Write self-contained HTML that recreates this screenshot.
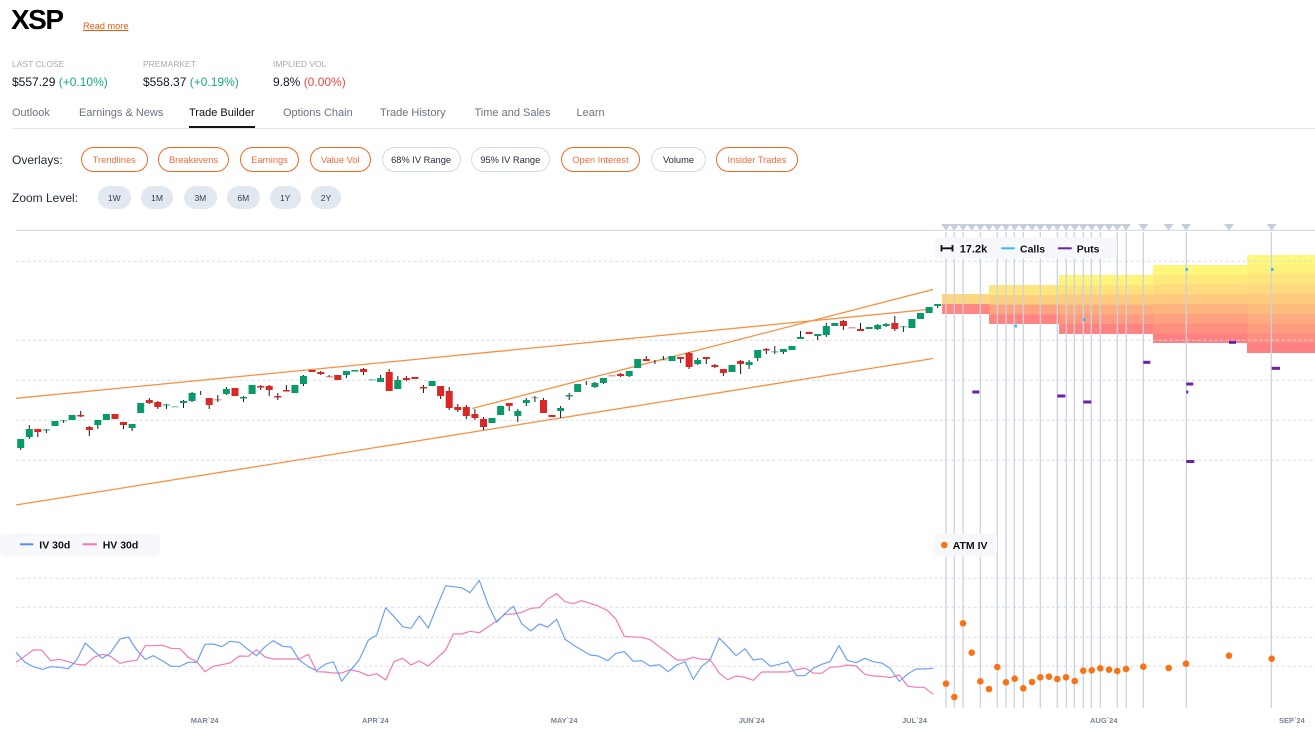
<!DOCTYPE html>
<html><head><meta charset="utf-8">
<style>
html,body{margin:0;padding:0;background:#fff;}
body{width:1315px;height:735px;position:relative;overflow:hidden;font-family:"Liberation Sans",sans-serif;}
.t{position:absolute;white-space:nowrap;line-height:1;}
.btn{position:absolute;top:147px;height:25px;box-sizing:border-box;border-radius:13px;display:flex;align-items:center;justify-content:center;font-size:9.3px;white-space:nowrap;}
.o{border:1.3px solid #ec6b24;color:#f26b3a;}
.g{border:1.3px solid #d3dbe6;color:#1f2937;}
.z{position:absolute;top:186px;height:23px;border-radius:12px;background:#e2e8f0;display:flex;align-items:center;justify-content:center;font-size:8.5px;color:#334155;}
svg{position:absolute;left:0;top:0;}
</style></head><body>

<div class="t" style="left:11px;top:6.3px;font-size:28px;font-weight:bold;letter-spacing:-1.5px;color:#000;">XSP</div>
<div class="t" style="left:83px;top:22.2px;font-size:9.2px;color:#ea580c;text-decoration:underline;">Read more</div>

<div class="t" style="left:12px;top:59.8px;font-size:8.5px;color:#a3aab6;">LAST CLOSE</div>
<div class="t" style="left:143px;top:59.8px;font-size:8.5px;color:#a3aab6;">PREMARKET</div>
<div class="t" style="left:273px;top:59.8px;font-size:8.5px;color:#a3aab6;">IMPLIED VOL</div>
<div class="t" style="left:12px;top:75.8px;font-size:12px;color:#111827;">$557.29 <span style="color:#17a589">(+0.10%)</span></div>
<div class="t" style="left:143px;top:75.8px;font-size:12px;color:#111827;">$558.37 <span style="color:#17a589">(+0.19%)</span></div>
<div class="t" style="left:273px;top:75.8px;font-size:12px;color:#111827;">9.8% <span style="color:#ef4444">(0.00%)</span></div>

<div class="t" style="left:12px;top:108px;font-size:11px;color:#6b7280;">Outlook</div>
<div class="t" style="left:79px;top:108px;font-size:11px;color:#6b7280;">Earnings &amp; News</div>
<div class="t" style="left:189px;top:108px;font-size:11px;color:#111;">Trade Builder</div>
<div class="t" style="left:283px;top:108px;font-size:11px;color:#6b7280;">Options Chain</div>
<div class="t" style="left:380px;top:108px;font-size:11px;color:#6b7280;">Trade History</div>
<div class="t" style="left:474.5px;top:108px;font-size:11px;color:#6b7280;">Time and Sales</div>
<div class="t" style="left:576.5px;top:108px;font-size:11px;color:#6b7280;">Learn</div>
<div style="position:absolute;left:12px;top:128px;width:1303px;height:1px;background:#e2e8f0;"></div>
<div style="position:absolute;left:189px;top:126px;width:66px;height:2px;background:#111;"></div>

<div class="t" style="left:12px;top:153.8px;font-size:12px;color:#1f2937;">Overlays:</div>
<div class="btn o" style="left:81px;width:66.5px;">Trendlines</div>
<div class="btn o" style="left:158px;width:71px;">Breakevens</div>
<div class="btn o" style="left:240px;width:59px;">Earnings</div>
<div class="btn o" style="left:310px;width:60.5px;">Value Vol</div>
<div class="btn g" style="left:381.6px;width:79px;">68% IV Range</div>
<div class="btn g" style="left:471px;width:78.6px;">95% IV Range</div>
<div class="btn o" style="left:561px;width:79px;">Open Interest</div>
<div class="btn g" style="left:651px;width:55px;">Volume</div>
<div class="btn o" style="left:716px;width:82px;">Insider Trades</div>

<div class="t" style="left:12px;top:191.8px;font-size:12px;color:#1f2937;">Zoom Level:</div>
<div class="z" style="left:98px;width:32.5px;">1W</div>
<div class="z" style="left:141px;width:32px;">1M</div>
<div class="z" style="left:184px;width:32.7px;">3M</div>
<div class="z" style="left:226.6px;width:33.4px;">6M</div>
<div class="z" style="left:270px;width:30.5px;">1Y</div>
<div class="z" style="left:311px;width:30px;">2Y</div>

<svg width="1315" height="735" viewBox="0 0 1315 735" xmlns="http://www.w3.org/2000/svg">
<!-- heatmap -->
<g shape-rendering="crispEdges">
<rect x="1247" y="255" width="68" height="10.1" fill="#fef97b"/>
<rect x="1247" y="264.8" width="68" height="10.1" fill="#fef07c"/>
<rect x="1247" y="274.6" width="68" height="10.1" fill="#fde57d"/>
<rect x="1247" y="284.4" width="68" height="10.1" fill="#fdd97e"/>
<rect x="1247" y="294.2" width="68" height="10.1" fill="#fdcb7e"/>
<rect x="1247" y="304" width="68" height="10.1" fill="#fdbb7e"/>
<rect x="1247" y="313.8" width="68" height="10.1" fill="#fdab7f"/>
<rect x="1247" y="323.6" width="68" height="10.1" fill="#fe9c80"/>
<rect x="1247" y="333.4" width="68" height="10.1" fill="#fe8e80"/>
<rect x="1247" y="343.2" width="68" height="9.8" fill="#ff8080"/>
<rect x="1153" y="265" width="94.3" height="10.05" fill="#fef77b"/>
<rect x="1153" y="274.75" width="94.3" height="10.05" fill="#fde97c"/>
<rect x="1153" y="284.5" width="94.3" height="10.05" fill="#fdda7e"/>
<rect x="1153" y="294.25" width="94.3" height="10.05" fill="#fdc97e"/>
<rect x="1153" y="304" width="94.3" height="10.05" fill="#fdb57f"/>
<rect x="1153" y="313.75" width="94.3" height="10.05" fill="#fea27f"/>
<rect x="1153" y="323.5" width="94.3" height="10.05" fill="#fe9080"/>
<rect x="1153" y="333.25" width="94.3" height="9.75" fill="#ff8080"/>
<rect x="1059" y="275" width="94.3" height="10.1" fill="#fef47c"/>
<rect x="1059" y="284.8" width="94.3" height="10.1" fill="#fde27d"/>
<rect x="1059" y="294.7" width="94.3" height="10.1" fill="#fdcb7e"/>
<rect x="1059" y="304.5" width="94.3" height="10.1" fill="#fdb07f"/>
<rect x="1059" y="314.3" width="94.3" height="10.1" fill="#fe9a80"/>
<rect x="1059" y="324.2" width="94.3" height="9.8" fill="#ff8481"/>
<rect x="989" y="285" width="70.3" height="10.05" fill="#fde67d"/>
<rect x="989" y="294.75" width="70.3" height="10.05" fill="#fdd07e"/>
<rect x="989" y="304.5" width="70.3" height="10.05" fill="#fea37f"/>
<rect x="989" y="314.25" width="70.3" height="9.75" fill="#ff8482"/>
<rect x="942" y="294" width="47.3" height="10.2" fill="#fdd67f"/>
<rect x="942" y="304" width="47.3" height="10" fill="#ff8682"/>
</g>

<!-- top border & grid -->
<line x1="16" y1="230.3" x2="1315" y2="230.3" stroke="#cbd5e1" stroke-width="1"/>
<g stroke="#d5dce8" stroke-width="1" stroke-dasharray="3.3 2.3" opacity="0.9">
<line x1="16" y1="261.3" x2="1315" y2="261.3"/>
<line x1="16" y1="340.3" x2="1315" y2="340.3"/>
<line x1="16" y1="380.3" x2="1315" y2="380.3"/>
<line x1="16" y1="420.3" x2="1315" y2="420.3"/>
<line x1="16" y1="460.3" x2="1315" y2="460.3"/>
<line x1="16" y1="578.3" x2="1315" y2="578.3"/>
<line x1="16" y1="607.3" x2="1315" y2="607.3"/>
<line x1="16" y1="637.3" x2="1315" y2="637.3"/>
<line x1="16" y1="666.3" x2="1315" y2="666.3"/>
</g>

<!-- expiry lines -->
<path d="M946 232V708M954.3 232V708M963 232V708M980.3 232V708M997.3 232V708M1006 232V708M1014.3 232V708M1023.3 232V708M1040.3 232V708M1057.3 232V708M1066.3 232V708M1074.3 232V708M1083.3 232V708M1091.3 232V708M1100.3 232V708M1117.3 232V708M1126.3 232V708M1143.3 232V708M1186.3 232V708M1271.3 232V708" stroke="#c9d3df" stroke-width="1.3" fill="none"/>
<path d="M941 224h10l-5 6.5zM949.3 224h10l-5 6.5zM958 224h10l-5 6.5zM966.7 224h10l-5 6.5zM975.3 224h10l-5 6.5zM984 224h10l-5 6.5zM992.3 224h10l-5 6.5zM1001 224h10l-5 6.5zM1009.7 224h10l-5 6.5zM1018.3 224h10l-5 6.5zM1027 224h10l-5 6.5zM1035.3 224h10l-5 6.5zM1044 224h10l-5 6.5zM1052.3 224h10l-5 6.5zM1061 224h10l-5 6.5zM1069.7 224h10l-5 6.5zM1078.3 224h10l-5 6.5zM1086.7 224h10l-5 6.5zM1095.3 224h10l-5 6.5zM1104 224h10l-5 6.5zM1112.3 224h10l-5 6.5zM1121 224h10l-5 6.5zM1138.3 224h10l-5 6.5zM1163.7 224h10l-5 6.5zM1181 224h10l-5 6.5zM1224 224h10l-5 6.5zM1266.7 224h10l-5 6.5z" fill="#c5cfdb"/>

<!-- trendlines -->
<g stroke="#f7852f" stroke-width="1.3" fill="none" opacity="0.9">
<line x1="16" y1="398.3" x2="933" y2="309"/>
<line x1="16" y1="505" x2="933" y2="358.5"/>
<line x1="472" y1="408.5" x2="933" y2="289.5"/>
</g>

<!-- candles -->
<path d="M20.7 439V450M29.3 425V439M37.8 429V437M46.4 429V433M63.6 420V423M80.7 411V417M89.3 426V436M97.8 420V429M123.5 422V429M132.1 424V431M149.3 398V404M157.8 401V409M166.4 404V409M183.5 400V408M192.1 392V402M200.7 391V395M209.2 398V409M217.8 395V402M226.4 387V395M243.5 396V402M260.7 385V390M269.2 385V396M277.8 393V400M286.4 385V391M303.5 375V386M320.7 371V375M329.2 375V377M346.4 371V378M363.5 368V375M380.6 375V382M389.2 369V391M397.8 376V389M406.4 376V381M423.5 385V393M440.6 386V399M449.2 387V410M457.8 404V412M466.3 405V419M474.9 409V420M483.5 417V430M509.2 403V411M517.8 409V422M526.3 398V406M534.9 396V402M543.5 398V413M560.6 406V418M569.2 393V400M586.3 381V385M594.9 382V388M603.4 378V384M620.6 373V377M629.2 371V377M646.3 356V361M654.9 360V364M663.4 356V360M680.6 357V363M689.1 352V369M697.7 358V365M706.3 357V364M714.9 364V368M723.4 369V376M740.6 360V374M749.1 360V369M757.7 350V361M766.3 348V354M774.8 346V354M783.4 349V354M800.5 331V339M817.7 334V340M826.3 323V337M843.4 320V330M860.5 323V331M877.7 324V330M886.2 323V327M894.8 316V331M903.4 326V332M937.7 304V308" stroke="#1a1a1a" stroke-width="1" fill="none"/>
<path fill="#079a6b" d="M17.2 439h7v9h-7zM25.8 429h7v8h-7zM51.5 421h7v5h-7zM68.6 415h7v5h-7zM94.3 420h7v5h-7zM102.9 414h7v6h-7zM128.6 424h7v4h-7zM137.2 403h7v10h-7zM180 401h7v2h-7zM188.6 393h7v8h-7zM222.9 389h7v5h-7zM240 397h7v1.5h-7zM248.6 385h7v9h-7zM291.4 385h7v8h-7zM300 376h7v8h-7zM342.9 371h7v4h-7zM351.4 370h7v1.5h-7zM377.1 378h7v4h-7zM394.3 380h7v9h-7zM428.6 381h7v5h-7zM488.5 418h7v5h-7zM497.1 406h7v9h-7zM514.3 411h7v5h-7zM522.8 400h7v3h-7zM557.1 408h7v3h-7zM565.7 395h7v1.5h-7zM574.2 384h7v8h-7zM591.4 383h7v4h-7zM599.9 378h7v5h-7zM625.7 371h7v5h-7zM634.2 359h7v9h-7zM668.5 356h7v5h-7zM694.2 360h7v4h-7zM728.5 365h7v7h-7zM745.6 362h7v3h-7zM754.2 350h7v8h-7zM779.9 349h7v3h-7zM788.5 346h7v4h-7zM797 337h7v2h-7zM814.2 334h7v2h-7zM822.8 326h7v9h-7zM831.3 323h7v3h-7zM865.6 327h7v2h-7zM874.2 325h7v4h-7zM882.7 324h7v2h-7zM908.4 319h7v9h-7zM917 313h7v6h-7zM925.6 307h7v6h-7zM934.2 304h7v2h-7z"/>
<path fill="#dc2626" d="M34.3 429h7v3h-7zM77.2 415h7v1.5h-7zM85.8 427h7v3h-7zM111.5 414h7v5h-7zM120 422h7v3h-7zM145.8 400h7v3h-7zM154.3 402h7v5h-7zM205.7 398h7v7h-7zM231.5 388h7v8h-7zM257.2 386h7v1.5h-7zM265.7 386h7v4h-7zM274.3 396h7v1.5h-7zM282.9 390h7v1.5h-7zM308.6 370h7v2h-7zM317.2 372h7v2h-7zM334.3 375h7v5h-7zM360 369h7v3h-7zM385.7 372h7v19h-7zM402.9 378h7v2h-7zM411.4 377h7v2h-7zM420 387h7v1.5h-7zM437.1 386h7v10h-7zM445.7 391h7v17h-7zM454.3 407h7v3h-7zM462.8 407h7v9h-7zM471.4 414h7v4h-7zM480 419h7v8h-7zM505.7 403h7v3h-7zM540 400h7v13h-7zM548.5 415h7v2h-7zM617.1 374h7v2h-7zM642.8 359h7v2h-7zM677.1 357h7v2h-7zM685.6 353h7v14h-7zM702.8 357h7v2h-7zM711.4 365h7v2h-7zM719.9 369h7v4h-7zM737.1 361h7v3h-7zM762.8 349h7v1.5h-7zM805.6 332h7v2h-7zM839.9 321h7v5h-7zM857 329h7v2h-7zM891.3 323h7v6h-7z"/>
<path fill="#079a6b" opacity="0.45" d="M42.9 429h7v2h-7zM60.1 420h7v1.5h-7zM162.9 404h7v2h-7zM171.5 406h7v1.5h-7zM368.6 379h7v1.5h-7zM531.4 397h7v1.5h-7zM659.9 359h7v1.5h-7zM771.3 351h7v1.5h-7zM899.9 326h7v1.5h-7z"/>
<path fill="#dc2626" opacity="0.45" d="M214.3 399h7v1.5h-7zM325.7 376h7v1.5h-7zM608.5 375h7v1.5h-7zM848.5 327h7v1.5h-7z"/>

<!-- calls / puts markers -->
<g fill="#38bdf8">
<rect x="1185.5" y="268" width="2.5" height="3"/>
<rect x="1271" y="268" width="2.5" height="3"/>
<rect x="1083" y="318" width="2.5" height="3"/>
<rect x="1014.5" y="324.5" width="2.5" height="3"/>
</g>
<g fill="#6b21a8">
<rect x="1143.3" y="360.8" width="7" height="3"/>
<rect x="1229" y="340.8" width="7" height="3"/>
<rect x="1271.7" y="366.8" width="8.3" height="3"/>
<rect x="972.3" y="390.5" width="7" height="3"/>
<rect x="1057.3" y="394.5" width="8" height="3"/>
<rect x="1083.3" y="400.5" width="8" height="3"/>
<rect x="1186.3" y="382.5" width="7" height="3"/>
<rect x="1186.3" y="390.5" width="2" height="3"/>
<rect x="1186.3" y="460" width="8" height="3"/>
</g>

<!-- top legend -->
<rect x="934" y="237" width="183" height="21.5" rx="4" fill="#f6f8fb"/>
<path d="M941 248.3H953M941.5 245V251.5M952.5 245V251.5" stroke="#111" stroke-width="1.8" fill="none"/>
<text x="959.7" y="252.3" font-family="Liberation Sans, sans-serif" font-size="11" font-weight="bold" fill="#111">17.2k</text>
<line x1="1001.3" y1="248.3" x2="1014.7" y2="248.3" stroke="#38bdf8" stroke-width="2"/>
<text x="1020" y="252.3" font-family="Liberation Sans, sans-serif" font-size="10.5" font-weight="bold" fill="#111">Calls</text>
<line x1="1058" y1="248.3" x2="1071.7" y2="248.3" stroke="#6b21a8" stroke-width="2"/>
<text x="1076.7" y="252.3" font-family="Liberation Sans, sans-serif" font-size="10.5" font-weight="bold" fill="#111">Puts</text>

<!-- lower panel -->
<polyline fill="none" stroke="#f27ab5" stroke-width="1.2" stroke-linejoin="round" points="16,662.3 25,656 33.3,650 41.7,650 50.7,660.7 59.3,659.3 68.3,661.7 76.7,664.3 85.3,665 94,657.3 102.3,654.3 110,656 120,663.3 128.3,661.3 136.7,660.3 145.3,645.7 153.3,645.7 162.7,645.3 171,648.3 180,648.7 188.3,657.3 196.7,661.7 205,671.7 213.3,666.3 221.7,664.7 230,663 239.3,656 248.3,656.3 256.7,649.7 265,657 273.3,659 282.7,659 291,659 299.3,659 308.3,654.3 316.7,671.7 325,672 333.3,673 341.7,673 350,669.7 359,671.7 368.3,675.7 376.7,673.7 385.7,680 394,661.7 402.7,658.3 411,665 419.3,661 428.3,666 436.7,658.3 445.7,650 453.3,634 461.7,634 470,631.3 479.3,632.7 488.3,626.7 496.7,621 505,614.3 513.3,614 521.7,612.3 530.7,608.3 539.3,607.7 547.7,599 556.7,593.7 565,601.7 573.3,603.7 581.7,600.7 590,603.3 598.3,606 607.7,610.7 616,619.3 624.3,636.3 633.3,637 641.7,637.3 650,639.7 659.3,646.7 668.3,653.3 676.7,660 685,660 693.3,657.3 701.7,659.3 710,659.3 719.3,673.3 727.7,679.7 736,676 745,677.3 753.3,680.3 761.7,672 770.7,672 779.3,672 787.7,672 796.7,669.7 805,668 813.3,673 821.7,673.3 830,667.3 839,666.7 847.3,665 856,666 865,674.3 873.3,676 881.7,676.3 890,677.7 899.3,675 907.7,686 916,687.3 924.3,687.3 933.3,694.3"/>
<polyline fill="none" stroke="#6fa0f5" stroke-width="1.2" stroke-linejoin="round" points="16,652.3 25,662.3 33.3,666.7 42.7,669.3 50.7,666.7 59.3,667.3 68.3,668.7 76.7,660 85.3,643 94,651 102.3,658.3 110,653.3 120,639 128.3,637 136.7,650 145.3,659.3 153.3,655.7 162.7,661 171,666.3 180,666.3 188.3,662.3 196.7,662.3 205,644.3 213.3,644 221.7,646.7 230,641.3 239.3,642.3 248.3,649.7 256.7,655.7 265,646.7 273.3,640.7 282.7,646.3 291,647 299.3,660 308.3,666.7 316.7,670.7 325,664.3 333.3,661.7 341.7,681.3 350,670.7 359,660.3 368.3,640.3 376.7,635 385.7,607.7 394,616.7 402.7,626.7 411,628.3 419.3,616 428.3,628 436.7,607 445.7,585.7 453.3,586.7 461.7,587.7 470,592.7 479.3,580.3 488.3,605 496.7,622.3 505,613.3 513.3,606.3 521.7,623.7 530.7,631 539.3,624 547.7,627 556.7,619.3 565,639.3 573.3,645 581.7,650 590,655 598.3,656 607.7,660.7 616,653.3 624.3,651.7 633.3,661.3 641.7,660.7 650,666 659.3,664.7 668.3,671.7 676.7,665 685,661.7 693.3,679.3 701.7,666.3 710,660 719.3,638 727.7,646.7 736,655.7 745,648.7 753.3,660 761.7,658.7 770.7,666.3 779.3,664.3 787.7,661.7 796.7,675.7 805,675.7 813.3,668.3 821.7,664.3 830,661.7 839,645.7 847.3,660.3 856,662.7 865,658.3 873.3,661.7 881.7,663 890,668.3 899.3,681.3 907.7,674 916,669 924.3,669 933.3,668.3"/>

<g fill="#f97316">
<circle cx="946" cy="683.7" r="3.3"/><circle cx="954.3" cy="697" r="3.3"/><circle cx="963" cy="623.3" r="3.3"/><circle cx="971.7" cy="652.7" r="3.3"/><circle cx="980.3" cy="681.3" r="3.3"/><circle cx="989" cy="689" r="3.3"/><circle cx="997.3" cy="667" r="3.3"/><circle cx="1006" cy="682.3" r="3.3"/><circle cx="1014.7" cy="678.7" r="3.3"/><circle cx="1023.3" cy="688.3" r="3.3"/><circle cx="1032" cy="682" r="3.3"/><circle cx="1040.3" cy="677.3" r="3.3"/><circle cx="1049" cy="676.7" r="3.3"/><circle cx="1057.3" cy="679" r="3.3"/><circle cx="1066" cy="677.3" r="3.3"/><circle cx="1074.7" cy="681" r="3.3"/><circle cx="1083.3" cy="670.7" r="3.3"/><circle cx="1091.7" cy="670.3" r="3.3"/><circle cx="1100.3" cy="668.3" r="3.3"/><circle cx="1109" cy="669.7" r="3.3"/><circle cx="1117.3" cy="671" r="3.3"/><circle cx="1126" cy="669" r="3.3"/><circle cx="1143.3" cy="666.7" r="3.3"/><circle cx="1168.7" cy="668" r="3.3"/><circle cx="1186" cy="663.7" r="3.3"/><circle cx="1229" cy="655.7" r="3.3"/><circle cx="1271.7" cy="658.7" r="3.3"/>
</g>

<!-- lower legends -->
<rect x="0" y="533.3" width="160" height="23.4" rx="5" fill="#f6f8fb"/>
<line x1="20" y1="544.3" x2="33.3" y2="544.3" stroke="#5b8def" stroke-width="2"/>
<text x="39.3" y="548.3" font-family="Liberation Sans, sans-serif" font-size="10.5" font-weight="bold" fill="#111">IV 30d</text>
<line x1="82.7" y1="544.3" x2="96.7" y2="544.3" stroke="#f472b6" stroke-width="2"/>
<text x="102.7" y="548.3" font-family="Liberation Sans, sans-serif" font-size="10.5" font-weight="bold" fill="#111">HV 30d</text>

<rect x="934" y="533.3" width="63.3" height="23.4" rx="5" fill="#f6f8fb"/>
<circle cx="944.3" cy="545" r="3.3" fill="#f97316"/>
<text x="952.7" y="548.8" font-family="Liberation Sans, sans-serif" font-size="10.5" font-weight="bold" fill="#111">ATM IV</text>

<!-- month labels -->
<g font-family="Liberation Sans, sans-serif" font-size="7.5" font-weight="bold" fill="#7a8494">
<text x="190.7" y="723">MAR`24</text>
<text x="362" y="723">APR`24</text>
<text x="550.7" y="723">MAY`24</text>
<text x="738.7" y="723">JUN`24</text>
<text x="902" y="723">JUL`24</text>
<text x="1090" y="723">AUG`24</text>
<text x="1279" y="723">SEP`24</text>
</g>
</svg>
</body></html>
